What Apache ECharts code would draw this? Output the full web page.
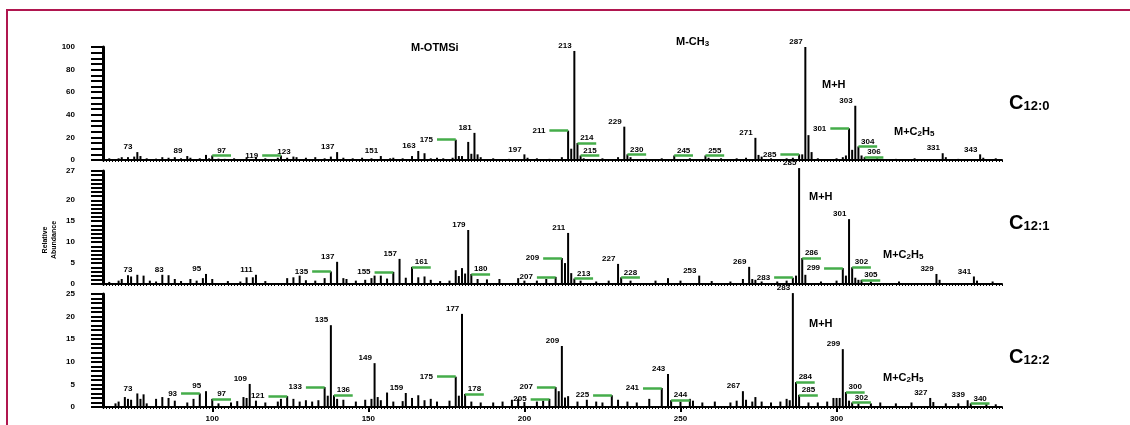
<!DOCTYPE html>
<html>
<head>
<meta charset="utf-8">
<title>C12 spectra</title>
<style>
html, body { margin: 0; padding: 0; background: #fff; }
#main { width: 1130px; height: 425px; }
</style>
</head>
<body>
<div id="main"></div>
<script src="https://cdn.jsdelivr.net/npm/echarts@6/dist/echarts.min.js"></script>
<script>
// m/z range of the bar trace, and of the printed scale (the trace sits 3 units right of it)
var mzTrace = [62, 350];
var mzPrinted = [65, 353];
var mzTicks = [100, 150, 200, 250, 300];

// C12:0
var spec120 = [[64,1.5],[67,1.5],[68,2.5],[70,2.5],[72,3],[73,7],[74,3.5],[76,1.5],[79,1.2],[81,2.5],[83,2],[85,2.5],[87,1.5],[89,3.5],[90,2],[93,1.5],[95,4.5],[96,1.5],[97,4],[99,1.2],[101,1],[104,1.5],[108,2],[111,2.5],[114,1.5],[118,2],[119,4],[121,2],[123,3],[124,2.5],[127,2],[130,2.5],[133,1.5],[135,3],[137,7],[139,2],[142,1.5],[145,2],[148,1.5],[151,3.5],[154,1.5],[155,2],[158,1.5],[161,3.5],[163,8],[165,6],[167,1.5],[169,2],[171,1.5],[174,2],[175,18],[176,3.5],[177,3.5],[179,16],[180,5.5],[181,24],[182,5],[183,2.5],[187,1.5],[192,1],[197,5],[198,2],[201,1.5],[205,1],[209,2.5],[211,26],[212,10],[213,96.5],[214,15],[215,4],[216,1.5],[222,1.5],[227,2.5],[229,29.5],[230,5],[231,2.5],[236,1],[241,1.5],[245,4],[250,1.5],[255,4],[256,2],[260,1.5],[265,1.5],[268,2],[271,19.6],[272,4.5],[273,3],[276,1.5],[281,1.5],[283,2],[285,5],[286,5],[287,100],[288,22],[289,7],[291,1.5],[297,1.5],[299,2.5],[300,4],[301,28],[302,9],[303,48],[304,12],[305,4],[306,2.5],[310,1.5],[316,1],[322,1.5],[331,6],[332,2.5],[336,1],[343,5],[344,2],[348,1.5]];
var top120 = [73, 89, 123, 137, 151, 163, 181, 197, 213, 229, 271, 287, 303, 331, 343];
var leadL120 = [119, 175, 211, 285, 301];
var leadR120 = [97, 214, 215, 230, 245, 255, 304, 306];

// C12:1
var spec121 = [[64,0.5],[67,0.8],[68,1.2],[70,2.1],[71,1.8],[73,2.2],[75,2],[77,0.8],[79,0.6],[81,2.2],[83,2.1],[85,1.2],[87,0.7],[90,1.2],[92,0.8],[94,1.4],[95,2.4],[97,1.2],[102,0.7],[106,0.6],[108,1.6],[110,1.6],[111,2.2],[114,0.7],[121,1.4],[123,1.6],[125,2],[127,0.9],[130,0.8],[133,1.4],[135,3],[137,5.3],[139,1.4],[140,1.2],[143,0.8],[146,1],[148,1.4],[149,2],[151,2],[153,1.3],[155,2.9],[157,6],[159,1.5],[161,4.1],[163,1.6],[165,1.8],[167,1],[170,0.7],[173,0.8],[175,3.3],[176,1.9],[177,3.8],[178,2.5],[179,12.9],[180,2.4],[182,1.2],[185,1.1],[189,1.2],[195,1.4],[197,0.8],[201,0.8],[204,1.2],[207,1.7],[209,6.2],[210,5],[211,12.2],[212,2.6],[213,1.3],[215,0.8],[220,0.6],[224,0.8],[227,4.8],[228,1.6],[231,0.8],[239,0.8],[243,1.4],[247,0.8],[253,2],[257,0.7],[263,0.6],[267,1.2],[269,4.1],[270,1.2],[271,1],[273,0.6],[278,0.6],[281,0.8],[283,1.5],[284,2],[285,27.7],[286,6.2],[287,2.2],[292,0.6],[297,0.8],[299,3.8],[300,2],[301,15.5],[302,4],[303,1.5],[304,1],[305,1],[308,0.6],[317,0.6],[329,2.4],[330,1],[341,1.8],[342,0.8],[347,0.6]];
var top121 = [73, 83, 95, 111, 137, 157, 179, 211, 227, 253, 269, 285, 301, 329, 341];
var leadL121 = [135, 155, 207, 209, 283, 299];
var leadR121 = [161, 180, 213, 228, 286, 302, 305];

// C12:2
var spec122 = [[66,0.8],[67,1.2],[69,2.2],[70,1.8],[71,1.6],[73,3],[74,1.8],[75,2.8],[76,0.8],[79,1.8],[81,2.2],[83,2],[85,1.4],[89,1],[91,1.8],[93,3],[95,3.5],[97,1.8],[99,0.8],[103,1],[105,1.3],[107,2.2],[108,2],[109,5.1],[111,1.4],[114,1],[118,1.2],[119,1.8],[121,2.4],[123,1.8],[125,1.2],[127,1.5],[129,1.2],[131,1.5],[133,4.4],[134,2.5],[135,18.1],[136,2.6],[137,1.8],[139,1.6],[143,1.2],[146,1.6],[148,1.8],[149,9.7],[150,2.2],[151,1.5],[153,3.2],[155,1.2],[158,1.3],[159,3.1],[161,2],[163,2.6],[165,1.5],[167,1.8],[169,1.2],[173,1.4],[175,6.7],[176,2.5],[177,20.6],[178,2.9],[180,1.2],[183,1],[187,1],[190,1.2],[193,1.6],[195,1.8],[197,1.1],[201,1.2],[203,1.4],[205,1.8],[207,4.4],[208,3.5],[209,13.5],[210,2.1],[211,2.4],[214,1.2],[217,1.6],[220,1.2],[222,1],[225,2.6],[227,1.6],[230,1.2],[233,1],[237,1.8],[241,4.2],[243,7.3],[244,1.5],[247,1.2],[250,1.8],[251,1.4],[254,1],[258,1.2],[263,1],[265,1.4],[267,3.5],[268,1.6],[270,1.2],[271,2.2],[273,1.2],[276,1],[279,1.2],[281,1.8],[282,1.5],[283,25.2],[284,5.5],[285,2.7],[288,1],[291,1],[294,1.2],[296,2],[297,2],[298,2],[299,12.8],[300,3.3],[301,1.4],[302,1],[304,0.8],[308,0.8],[311,1],[316,0.8],[321,1],[327,2],[328,1.1],[332,0.8],[336,0.8],[339,1.5],[340,0.8],[345,0.8],[348,0.6]];
var top122 = [73, 95, 109, 135, 149, 159, 177, 209, 243, 267, 283, 299, 327, 339];
var leadL122 = [93, 121, 133, 175, 205, 207, 225, 241];
var leadR122 = [97, 136, 178, 244, 284, 285, 300, 302, 340];

var yMax = [100, 27, 25];
var yLabelStep = [20, 5, 5];

var panels = [
	{ spec: spec120, top: top120, leadL: leadL120, leadR: leadR120, yInterval: 5 },
	{ spec: spec121, top: top121, leadL: leadL121, leadR: leadR121, yInterval: 1 },
	{ spec: spec122, top: top122, leadL: leadL122, leadR: leadR122, yInterval: 1 }
];

var FONT = '"Liberation Sans", Arial, sans-serif';
var GREEN = '#45ad4a';
var LEAD = 6; // length of the green marks, in m/z units
var gridTop = [47, 171, 294];

function ab(spec, mz) {
	for (var i = 0; i < spec.length; i++) {
		if (spec[i][0] === mz) return spec[i][1];
	}
	return 0;
}

var labelText = { fontFamily: FONT, fontSize: 8, fontWeight: 'bold', color: '#000' };
var grids = [], xAxes = [], yAxes = [], series = [];

panels.forEach(function (p, i) {
	grids.push({ left: 103, right: 128, top: gridTop[i], height: 113 });

	// axis of the bar trace
	xAxes.push({
		type: 'value', gridIndex: i, position: 'bottom',
		min: mzTrace[0], max: mzTrace[1], interval: 1,
		axisLine: { onZero: false, lineStyle: { color: '#000', width: 2 } },
		axisTick: { length: 2, lineStyle: { color: '#000', width: 1 } },
		axisLabel: { show: false },
		splitLine: { show: false }
	});
	// printed m/z scale
	xAxes.push({
		type: 'value', gridIndex: i, position: 'bottom',
		min: mzPrinted[0], max: mzPrinted[1],
		axisLine: { show: false },
		axisTick: { show: i === 2, customValues: mzTicks, length: 5, lineStyle: { color: '#000', width: 2 } },
		axisLabel: echarts.util.extend({ show: i === 2, customValues: mzTicks, margin: 8 }, labelText),
		splitLine: { show: false }
	});

	yAxes.push({
		type: 'value', gridIndex: i, min: 0, max: yMax[i], interval: p.yInterval,
		axisLine: { show: true, lineStyle: { color: '#000', width: 3 } },
		axisTick: { show: true, length: 12, lineStyle: { color: '#000', width: 2 } },
		axisLabel: echarts.util.extend({
			margin: 28,
			formatter: function (v) {
				if (v === yMax[i]) return String(v);
				// keep room under the top label
				return (v % yLabelStep[i] === 0 && yMax[i] - v >= 4) ? String(v) : '';
			}
		}, labelText),
		splitLine: { show: false }
	});

	series.push({
		type: 'bar', xAxisIndex: 2 * i, yAxisIndex: i,
		data: p.spec, barWidth: 2, clip: false, silent: true,
		itemStyle: { color: '#000' }
	});

	// labels above peaks
	series.push({
		type: 'scatter', xAxisIndex: 2 * i + 1, yAxisIndex: i,
		data: p.top.map(function (mz) { return [mz, ab(p.spec, mz)]; }),
		symbolSize: 0, clip: false, silent: true,
		itemStyle: { color: '#000', opacity: 1 },
		label: echarts.util.extend({
			show: true, position: 'top', distance: 1,
			formatter: function (q) { return String(q.value[0]); }
		}, labelText)
	});

	// green leaders coming in from the left
	series.push({
		type: 'scatter', xAxisIndex: 2 * i, yAxisIndex: i,
		data: p.leadL.map(function (mz) { return [mz, ab(p.spec, mz)]; }),
		symbolSize: 0, silent: true,
		markLine: {
			silent: true, symbol: ['none', 'none'], animation: false,
			lineStyle: { color: GREEN, width: 2.5, type: 'solid', opacity: 1 },
			label: echarts.util.extend({
				show: true, position: 'start', distance: 4,
				formatter: function (q) { return q.name; }
			}, labelText),
			data: p.leadL.map(function (mz) {
				var h = ab(p.spec, mz);
				return [{ name: String(mz), coord: [mz - LEAD, h] }, { coord: [mz, h] }];
			})
		}
	});

	// green underlines going to the right
	series.push({
		type: 'scatter', xAxisIndex: 2 * i, yAxisIndex: i,
		data: p.leadR.map(function (mz) { return [mz, ab(p.spec, mz)]; }),
		symbolSize: 0, silent: true,
		markLine: {
			silent: true, symbol: ['none', 'none'], animation: false,
			lineStyle: { color: GREEN, width: 2.5, type: 'solid', opacity: 1 },
			label: echarts.util.extend({
				show: true, position: 'insideMiddleTop', distance: 1,
				formatter: function (q) { return q.name; }
			}, labelText),
			data: p.leadR.map(function (mz) {
				var h = ab(p.spec, mz);
				return [{ name: String(mz), coord: [mz, h] }, { coord: [mz + LEAD, h] }];
			})
		}
	});
});

var rich = {
	m: { fontFamily: FONT, fontSize: 11, fontWeight: 'bold', color: '#000', lineHeight: 12 },
	s: { fontFamily: FONT, fontSize: 8, fontWeight: 'bold', color: '#000', lineHeight: 4, verticalAlign: 'bottom' },
	c: { fontFamily: FONT, fontSize: 20, fontWeight: 'bold', color: '#000', lineHeight: 20 },
	cs: { fontFamily: FONT, fontSize: 13, fontWeight: 'bold', color: '#000', lineHeight: 6, verticalAlign: 'bottom' }
};

function label(x, y, text) {
	return { type: 'text', x: x, y: y, silent: true,
		style: { text: text, rich: rich, align: 'left', verticalAlign: 'middle' } };
}

var graphics = [
	{ type: 'rect', silent: true, z: -1, shape: { x: 7, y: 10, width: 1200, height: 500 },
		style: { fill: 'none', stroke: '#b0164f', lineWidth: 2 } },
	label(411, 48, '{m|M-OTMSi}'),
	label(676, 42, '{m|M-CH}{s|3}'),
	label(822, 85, '{m|M+H}'),
	label(894, 132, '{m|M+C}{s|2}{m|H}{s|5}'),
	label(1009, 103, '{c|C}{cs|12:0}'),
	label(809, 197, '{m|M+H}'),
	label(883, 255, '{m|M+C}{s|2}{m|H}{s|5}'),
	label(1009, 223, '{c|C}{cs|12:1}'),
	label(809, 324, '{m|M+H}'),
	label(883, 378, '{m|M+C}{s|2}{m|H}{s|5}'),
	label(1009, 357, '{c|C}{cs|12:2}'),
	{ type: 'text', x: 50, y: 240, rotation: Math.PI / 2, silent: true,
		style: { text: 'Relative\nAbundance', font: 'bold 7px ' + FONT, fill: '#000',
			align: 'center', verticalAlign: 'middle', lineHeight: 9 } }
];

var chart = echarts.init(document.getElementById('main'));
chart.setOption({
	animation: false,
	backgroundColor: '#fff',
	grid: grids,
	xAxis: xAxes,
	yAxis: yAxes,
	series: series,
	graphic: graphics
});
</script>
</body>
</html>
